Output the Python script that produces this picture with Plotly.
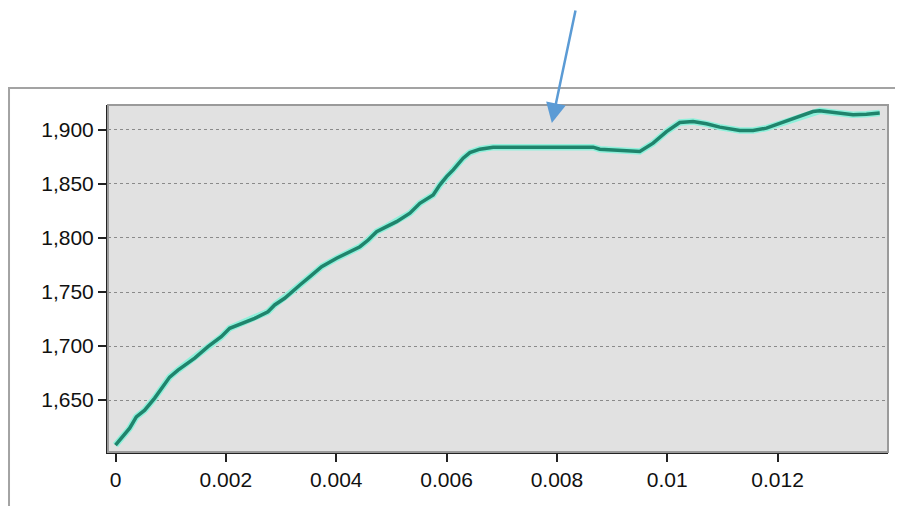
import plotly.graph_objects as go

x_vals = [0.0, 0.000136, 0.000257, 0.000377, 0.000529, 0.00071, 0.00086, 0.000982,
          0.001132, 0.001254, 0.001435, 0.001676, 0.001917, 0.002069, 0.002279,
          0.002522, 0.002763, 0.002884, 0.003065, 0.003161, 0.003342, 0.003524,
          0.003736, 0.004007, 0.004188, 0.00443, 0.00458, 0.004732, 0.004913,
          0.005094, 0.005335, 0.005516, 0.005757, 0.005879, 0.006, 0.00612, 0.0063,
          0.006422, 0.006603, 0.006844, 0.007328, 0.008053, 0.008656, 0.008777,
          0.009018, 0.009502, 0.009743, 0.009986, 0.010226, 0.010467, 0.01071,
          0.010951, 0.011313, 0.011554, 0.011797, 0.012098, 0.0124, 0.012641,
          0.012763, 0.013004, 0.013366, 0.013609, 0.01385]
y_vals = [1608.3, 1616, 1624, 1634.5, 1640.7, 1651.9, 1662.3, 1671.3, 1677.8,
          1682.4, 1688.9, 1699.4, 1708.6, 1716.4, 1721, 1725.6, 1731.8, 1738,
          1744.2, 1748.8, 1756.5, 1764.2, 1773.4, 1781.2, 1785.8, 1791.9, 1798.1,
          1805.8, 1810.5, 1815.1, 1822.9, 1832, 1839.8, 1849.1, 1856.8, 1863,
          1873.8, 1879, 1882.1, 1884, 1884, 1884, 1884, 1882.1, 1881.5, 1880,
          1887.7, 1898.4, 1906.8, 1907.7, 1905.6, 1902.5, 1899.4, 1899.4, 1901.6,
          1906.8, 1912.3, 1916.9, 1917.6, 1916, 1913.9, 1914.5, 1915.5]

y_tick_vals = [1650, 1700, 1750, 1800, 1850, 1900]
x_tick_vals = [0, 0.002, 0.004, 0.006, 0.008, 0.01, 0.012]
x_tick_text = ["0", "0.002", "0.004", "0.006", "0.008", "0.01", "0.012"]

fig = go.Figure()
fig.add_trace(go.Scatter(x=x_vals, y=y_vals, mode="lines",
                         line=dict(color="#8ff0db", width=6.5), hoverinfo="skip",
                         showlegend=False))
fig.add_trace(go.Scatter(x=x_vals, y=y_vals, mode="lines",
                         line=dict(color="#1f846c", width=3.5), showlegend=False))

font = dict(family="Liberation Sans, Arial, sans-serif", size=21, color="#111111")

fig.update_layout(
    width=895, height=498,
    margin=dict(l=100, r=15, t=97, b=54),
    paper_bgcolor="white",
    plot_bgcolor="#e1e1e1",
    font=font,
    xaxis=dict(range=[-0.000136, 0.014], tickvals=x_tick_vals, ticktext=x_tick_text,
               showgrid=False, zeroline=False, showline=True, linecolor="#222222",
               linewidth=2, ticks="outside", ticklen=8, tickcolor="#222222",
               tickwidth=2),
    yaxis=dict(range=[1602, 1923], tickvals=y_tick_vals, tickformat=",d",
               showgrid=True, gridcolor="#8a8a8a", griddash="dot", gridwidth=1,
               zeroline=False, showline=True, linecolor="#222222", linewidth=2,
               ticks="outside", ticklen=8, tickcolor="#222222", tickwidth=2),
    shapes=[
        dict(type="rect", xref="paper", yref="paper", x0=-0.1269, x1=1.03,
             y0=-0.2, y1=1.049, line=dict(color="#a3a3a3", width=2), layer="below"),
        dict(type="rect", xref="paper", yref="paper", x0=0, x1=1, y0=0, y1=1,
             line=dict(color="#9a9a9a", width=2), layer="above"),
    ],
    annotations=[
        dict(xref="paper", yref="paper", x=0.569, y=0.948, text="", showarrow=True,
             ax=24, ay=-114, arrowcolor="#5b9bd5", arrowwidth=2.5, arrowhead=2,
             arrowsize=1.6, standoff=0),
    ],
)

fig.write_html("out.html")
